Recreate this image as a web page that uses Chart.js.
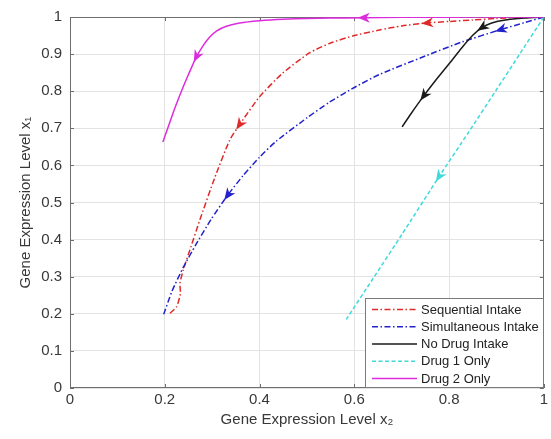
<!DOCTYPE html>
<html><head><meta charset="utf-8">
<script src="https://cdn.jsdelivr.net/npm/chart.js@4/dist/chart.umd.min.js"></script>
<style>html,body{margin:0;padding:0;background:#fff;}</style>
</head><body>
<canvas id="c" width="551" height="439" style="display:block;width:551px;height:439px"></canvas>
<script>
// ---- data ----
const xTitle = 'Gene Expression Level x\u2082';
const yTitle = 'Gene Expression Level x\u2081';
const xTicks = [0, 0.2, 0.4, 0.6, 0.8, 1];
const xTickLabels = ['0', '0.2', '0.4', '0.6', '0.8', '1'];
const yTicks = [0, 0.1, 0.2, 0.3, 0.4, 0.5, 0.6, 0.7, 0.8, 0.9, 1];
const yTickLabels = ['0', '0.1', '0.2', '0.3', '0.4', '0.5', '0.6', '0.7', '0.8', '0.9', '1'];

const seriesNames = ['Sequential Intake', 'Simultaneous Intake', 'No Drug Intake', 'Drug 1 Only', 'Drug 2 Only'];

const seqX = [1.0, 0.95, 0.9, 0.85, 0.8, 0.754, 0.7, 0.653, 0.6, 0.55, 0.505, 0.449, 0.4, 0.358, 0.337, 0.305, 0.274, 0.253, 0.239, 0.232, 0.233, 0.225, 0.207];
const seqY = [1.0, 0.999, 0.996, 0.992, 0.988, 0.984, 0.976, 0.965, 0.95, 0.93, 0.903, 0.849, 0.785, 0.71, 0.668, 0.565, 0.453, 0.372, 0.318, 0.282, 0.255, 0.219, 0.197];
const seqArrows = [5, 13];

const simX = [1.0, 0.96, 0.909, 0.828, 0.75, 0.653, 0.6, 0.547, 0.5, 0.435, 0.4, 0.365, 0.333, 0.298, 0.265, 0.239, 0.215, 0.196];
const simY = [1.0, 0.985, 0.966, 0.933, 0.895, 0.845, 0.81, 0.77, 0.728, 0.665, 0.622, 0.572, 0.52, 0.455, 0.385, 0.325, 0.26, 0.192];
const simArrows = [2, 12];

const noDrugX = [1.0, 0.96, 0.919, 0.89, 0.87, 0.85, 0.83, 0.807, 0.776, 0.747, 0.72, 0.701];
const noDrugY = [1.0, 0.997, 0.992, 0.984, 0.972, 0.951, 0.922, 0.885, 0.836, 0.788, 0.740, 0.704];
const noDrugArrows = [4, 9];

const drug1X = [1.0, 0.95, 0.9, 0.842, 0.779, 0.7, 0.64, 0.583];
const drug1Y = [1.0, 0.902, 0.804, 0.691, 0.570, 0.413, 0.296, 0.185];
const drug1Arrows = [4];

const drug2X = [1.0, 0.9, 0.8, 0.7, 0.62, 0.55, 0.5, 0.45, 0.4, 0.358, 0.33, 0.309, 0.294, 0.281, 0.267, 0.25, 0.239, 0.22, 0.196];
const drug2Y = [1.0, 1.0, 0.9995, 0.999, 0.998, 0.997, 0.996, 0.994, 0.99, 0.984, 0.975, 0.962, 0.945, 0.923, 0.893, 0.845, 0.812, 0.75, 0.663];
const drug2Arrows = [4, 14];

// ---- styling ----
const FONT = '"Liberation Sans", Arial, Helvetica, sans-serif';
const TEXT = '#383838';
const pts = (xs, ys) => xs.map((x, i) => ({x: x, y: ys[i]}));

function ds(label, xs, ys, color, dash, arrows, order) {
  return {
    label: label, data: pts(xs, ys), borderColor: color, backgroundColor: color,
    borderWidth: 1.5, borderDash: dash, showLine: true, pointRadius: 0,
    pointHoverRadius: 0, tension: 0.2, fill: false, arrows: arrows, order: order
  };
}

const datasets = [
  ds(seriesNames[0], seqX, seqY, '#e02a2a', [6, 2.5, 1.5, 2.5], seqArrows, 5),
  ds(seriesNames[1], simX, simY, '#2222cc', [6, 2.5, 1.5, 2.5], simArrows, 4),
  ds(seriesNames[2], noDrugX, noDrugY, '#1a1a1a', [], noDrugArrows, 3),
  ds(seriesNames[3], drug1X, drug1Y, '#3fdada', [4, 2.5], drug1Arrows, 2),
  ds(seriesNames[4], drug2X, drug2Y, '#dd2cdd', [], drug2Arrows, 1)
];

const boxPlugin = {
  id: 'box',
  beforeDatasetsDraw(chart) {
    const {ctx, chartArea: a, scales} = chart;
    ctx.save();
    ctx.strokeStyle = '#6e6e6e';
    ctx.lineWidth = 1;
    ctx.setLineDash([]);
    ctx.strokeRect(Math.round(a.left) + 0.5, Math.round(a.top) + 0.5,
                   Math.round(a.right - a.left) - 1, Math.round(a.bottom - a.top) - 1);
    ctx.beginPath();
    const tl = 4;
    xTicks.forEach(v => {
      const px = Math.round(scales.x.getPixelForValue(v)) + 0.5;
      ctx.moveTo(px, a.bottom); ctx.lineTo(px, a.bottom - tl);
      ctx.moveTo(px, a.top); ctx.lineTo(px, a.top + tl);
    });
    yTicks.forEach(v => {
      const py = Math.round(scales.y.getPixelForValue(v)) + 0.5;
      ctx.moveTo(a.left, py); ctx.lineTo(a.left + tl, py);
      ctx.moveTo(a.right, py); ctx.lineTo(a.right - tl, py);
    });
    ctx.stroke();
    ctx.restore();
  }
};

const arrowPlugin = {
  id: 'arrows',
  afterDatasetsDraw(chart) {
    const ctx = chart.ctx;
    chart.data.datasets.forEach((d, i) => {
      const meta = chart.getDatasetMeta(i);
      (d.arrows || []).forEach(k => {
        const p = meta.data[k], a = meta.data[k - 1], b = meta.data[k + 1];
        if (!p || !a || !b) return;
        const ang = Math.atan2(b.y - a.y, b.x - a.x);
        const L = 12, W = 5, N = 3.5;
        ctx.save();
        ctx.translate(p.x, p.y);
        ctx.rotate(ang);
        ctx.beginPath();
        ctx.moveTo(L / 2, 0);
        ctx.lineTo(-L / 2, -W);
        ctx.lineTo(-L / 2 + N, 0);
        ctx.lineTo(-L / 2, W);
        ctx.closePath();
        ctx.fillStyle = d.borderColor;
        ctx.fill();
        ctx.restore();
      });
    });
  }
};

const legendPlugin = {
  id: 'boxLegend',
  afterDraw(chart) {
    const {ctx, chartArea: a} = chart;
    const w = 179, h = 90;
    const x0 = Math.round(a.right - w), y0 = Math.round(a.bottom - h);
    ctx.save();
    ctx.fillStyle = '#ffffff';
    ctx.fillRect(x0, y0, w, h);
    ctx.strokeStyle = '#7a7a7a';
    ctx.lineWidth = 1;
    ctx.setLineDash([]);
    ctx.strokeRect(x0 + 0.5, y0 + 0.5, w - 1, h - 1);
    chart.data.datasets.forEach((d, i) => {
      const y = y0 + 11.5 + i * 17.25;
      ctx.beginPath();
      ctx.setLineDash(d.borderDash || []);
      ctx.strokeStyle = d.borderColor;
      ctx.lineWidth = d.borderWidth;
      ctx.moveTo(x0 + 7, y);
      ctx.lineTo(x0 + 52, y);
      ctx.stroke();
      ctx.setLineDash([]);
      ctx.fillStyle = '#222222';
      ctx.font = '13px ' + FONT;
      ctx.textBaseline = 'middle';
      ctx.textAlign = 'left';
      ctx.fillText(d.label, x0 + 56, y + 0.5);
    });
    ctx.restore();
  }
};

new Chart(document.getElementById('c'), {
  type: 'scatter',
  data: {datasets: datasets},
  options: {
    responsive: false,
    animation: false,
    devicePixelRatio: 1,
    layout: {padding: {left: 0, right: 6, top: 17, bottom: 0}},
    plugins: {legend: {display: false}, tooltip: {enabled: false}},
    scales: {
      x: {
        type: 'linear', min: 0, max: 1,
        afterBuildTicks: s => { s.ticks = xTicks.map(v => ({value: v})); },
        afterFit: s => { s.height = 51; },
        ticks: {font: {size: 15, family: FONT}, color: TEXT, padding: 3, maxRotation: 0,
                autoSkip: false, callback: (v, i) => xTickLabels[i]},
        grid: {color: '#e3e3e3', drawTicks: false, lineWidth: 1},
        border: {display: false},
        title: {display: true, text: xTitle, color: TEXT,
                font: {size: 15, family: FONT}, padding: {top: 0, bottom: 10}}
      },
      y: {
        type: 'linear', min: 0, max: 1,
        afterBuildTicks: s => { s.ticks = yTicks.map(v => ({value: v})); },
        afterFit: s => { s.width = 70; },
        ticks: {font: {size: 15, family: FONT}, color: TEXT, padding: 8,
                autoSkip: false, callback: (v, i) => yTickLabels[i]},
        grid: {color: '#e3e3e3', drawTicks: false, lineWidth: 1},
        border: {display: false},
        title: {display: true, text: yTitle, color: TEXT,
                font: {size: 15, family: FONT}, padding: {top: 17, bottom: 0}}
      }
    }
  },
  plugins: [boxPlugin, arrowPlugin, legendPlugin]
});
</script>
</body></html>
